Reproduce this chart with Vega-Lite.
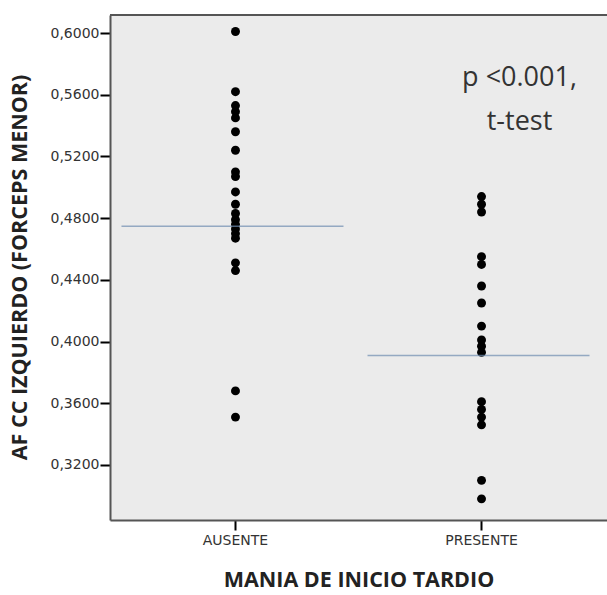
{
  "$schema": "https://vega.github.io/schema/vega-lite/v6.json",
  "width": 497,
  "height": 505,
  "autosize": {"type": "none"},
  "padding": {"left": 110, "top": 15, "right": 0, "bottom": 75},
  "background": "#ffffff",
  "datasets": {
    "puntos": [
      {"grupo": "AUSENTE", "valor": 0.601},
      {"grupo": "AUSENTE", "valor": 0.562},
      {"grupo": "AUSENTE", "valor": 0.553},
      {"grupo": "AUSENTE", "valor": 0.549},
      {"grupo": "AUSENTE", "valor": 0.545},
      {"grupo": "AUSENTE", "valor": 0.536},
      {"grupo": "AUSENTE", "valor": 0.524},
      {"grupo": "AUSENTE", "valor": 0.510},
      {"grupo": "AUSENTE", "valor": 0.507},
      {"grupo": "AUSENTE", "valor": 0.497},
      {"grupo": "AUSENTE", "valor": 0.489},
      {"grupo": "AUSENTE", "valor": 0.483},
      {"grupo": "AUSENTE", "valor": 0.479},
      {"grupo": "AUSENTE", "valor": 0.476},
      {"grupo": "AUSENTE", "valor": 0.473},
      {"grupo": "AUSENTE", "valor": 0.470},
      {"grupo": "AUSENTE", "valor": 0.467},
      {"grupo": "AUSENTE", "valor": 0.451},
      {"grupo": "AUSENTE", "valor": 0.446},
      {"grupo": "AUSENTE", "valor": 0.368},
      {"grupo": "AUSENTE", "valor": 0.351},
      {"grupo": "PRESENTE", "valor": 0.494},
      {"grupo": "PRESENTE", "valor": 0.489},
      {"grupo": "PRESENTE", "valor": 0.484},
      {"grupo": "PRESENTE", "valor": 0.455},
      {"grupo": "PRESENTE", "valor": 0.450},
      {"grupo": "PRESENTE", "valor": 0.436},
      {"grupo": "PRESENTE", "valor": 0.425},
      {"grupo": "PRESENTE", "valor": 0.410},
      {"grupo": "PRESENTE", "valor": 0.401},
      {"grupo": "PRESENTE", "valor": 0.397},
      {"grupo": "PRESENTE", "valor": 0.393},
      {"grupo": "PRESENTE", "valor": 0.361},
      {"grupo": "PRESENTE", "valor": 0.356},
      {"grupo": "PRESENTE", "valor": 0.351},
      {"grupo": "PRESENTE", "valor": 0.346},
      {"grupo": "PRESENTE", "valor": 0.310},
      {"grupo": "PRESENTE", "valor": 0.298}
    ],
    "medias": [
      {"grupo": "AUSENTE", "media": 0.4747},
      {"grupo": "PRESENTE", "media": 0.391}
    ],
    "notas": [
      {"grupo": "PRESENTE", "texto": "p <0.001,", "y": 0.5708},
      {"grupo": "PRESENTE", "texto": "t-test", "y": 0.5422}
    ]
  },
  "encoding": {
    "x": {
      "field": "grupo",
      "type": "nominal",
      "scale": {"type": "band", "domain": ["AUSENTE", "PRESENTE"], "paddingInner": 0, "paddingOuter": 0.01},
      "axis": {
        "title": "MANIA DE INICIO TARDIO",
        "labelAngle": 0,
        "labelFont": "DejaVu Sans",
        "labelFontSize": 14,
        "labelColor": "#333333",
        "labelPadding": 3,
        "tickColor": "#000000",
        "tickWidth": 2,
        "tickSize": 10,
        "domain": true,
        "domainColor": "#555555",
        "domainWidth": 2,
        "titleFont": "Open Sans",
        "titleFontWeight": "bold",
        "titleFontSize": 21.5,
        "titleColor": "#222222",
        "titleBaseline": "middle",
        "titleY": 60
      }
    }
  },
  "layer": [
    {
      "data": {"name": "puntos"},
      "mark": {"type": "point", "filled": true, "shape": "circle", "size": 80, "color": "#000000", "opacity": 1},
      "encoding": {
        "y": {
          "field": "valor",
          "type": "quantitative",
          "scale": {"domain": [0.2843, 0.6117], "nice": false, "zero": false},
          "axis": {
            "title": "AF CC IZQUIERDO (FORCEPS MENOR)",
            "values": [0.32, 0.36, 0.40, 0.44, 0.48, 0.52, 0.56, 0.60],
            "labelExpr": "replace(format(datum.value, '.4f'), '.', ',')",
            "labelFont": "DejaVu Sans",
            "labelFontSize": 14,
            "labelColor": "#333333",
            "labelPadding": 1,
            "tickColor": "#000000",
            "tickWidth": 2,
            "tickSize": 10,
            "grid": false,
            "domain": true,
            "domainColor": "#555555",
            "domainWidth": 2,
            "titleFont": "Open Sans",
            "titleFontWeight": "bold",
            "titleFontSize": 21.5,
            "titleColor": "#222222",
            "titleX": -90,
            "titleY": 252,
            "titleAngle": -90,
            "titleAlign": "center",
            "titleBaseline": "middle"
          }
        }
      }
    },
    {
      "data": {"values": [{"borde": 0.6117}]},
      "mark": {"type": "rule", "color": "#555555", "strokeWidth": 2},
      "encoding": {
        "y": {"field": "borde", "type": "quantitative"},
        "x": null
      }
    },
    {
      "data": {"name": "medias"},
      "mark": {"type": "tick", "size": 222, "thickness": 1.5, "color": "#6f8db0", "xOffset": -3},
      "encoding": {
        "y": {"field": "media", "type": "quantitative"}
      }
    },
    {
      "data": {"name": "notas"},
      "mark": {"type": "text", "font": "Open Sans", "fontSize": 27, "color": "#333333", "dx": 38, "align": "center", "baseline": "middle"},
      "encoding": {
        "y": {"field": "y", "type": "quantitative"},
        "text": {"field": "texto"}
      }
    }
  ],
  "config": {
    "view": {"stroke": null, "fill": "#ebebeb"}
  }
}
